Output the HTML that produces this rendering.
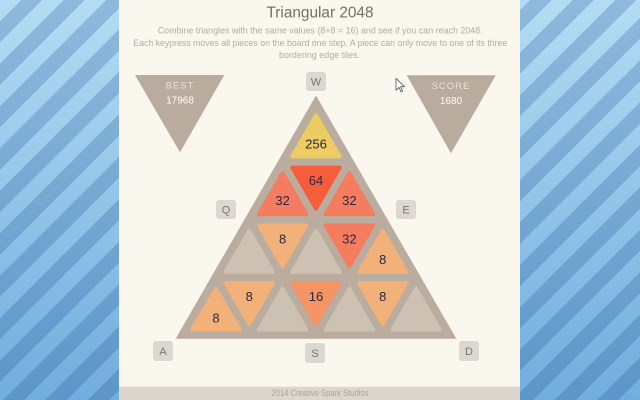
<!DOCTYPE html>
<html>
<head>
<meta charset="utf-8">
<style>
  html, body { margin:0; padding:0; width:640px; height:400px; overflow:hidden; }
  body {
    background:
      repeating-linear-gradient(135deg, rgba(25,75,145,0) 0px, rgba(25,75,145,0) 15px, rgba(25,75,145,0.24) 15px, rgba(25,75,145,0.24) 30px),
      linear-gradient(#b4dcf4, #72addc);
    font-family: "Liberation Sans", sans-serif;
  }
  svg { position:absolute; left:0; top:0; }
</style>
</head>
<body>
<svg width="640" height="400" viewBox="0 0 640 400" xmlns="http://www.w3.org/2000/svg" font-family="Liberation Sans, sans-serif">
  <!-- panel -->
  <rect x="119" y="0" width="401" height="400" fill="#faf7ef"/>
  <rect x="119" y="386.7" width="401" height="13.3" fill="#ddd6cf"/>
  <text x="320" y="396" text-anchor="middle" font-size="9" fill="#ada296" textLength="97" lengthAdjust="spacingAndGlyphs">2014 Creative Spark Studios</text>

  <!-- header -->
  <text x="320" y="17.5" text-anchor="middle" font-size="15.5" fill="#776e65" textLength="107" lengthAdjust="spacingAndGlyphs">Triangular 2048</text>
  <text x="320.2" y="33.5" text-anchor="middle" font-size="9.5" fill="#b3aba2" textLength="325" lengthAdjust="spacingAndGlyphs">Combine triangles with the same values (8+8 = 16) and see if you can reach 2048.</text>
  <text x="320.3" y="46" text-anchor="middle" font-size="9.5" fill="#b3aba2" textLength="374" lengthAdjust="spacingAndGlyphs">Each keypress moves all pieces on the board one step. A piece can only move to one of its three</text>
  <text x="319.5" y="58" text-anchor="middle" font-size="9.5" fill="#b3aba2" textLength="81" lengthAdjust="spacingAndGlyphs">bordering edge tiles.</text>

  <!-- score triangles -->
  <polygon points="135,75 224.3,75 180,152.3" fill="#b9ab9e"/>
  <text x="180" y="88.5" text-anchor="middle" font-size="9.5" fill="#ebe2d9" letter-spacing="1">BEST</text>
  <text x="180" y="103.5" text-anchor="middle" font-size="10" fill="#ffffff">17968</text>
  <polygon points="406.7,75.3 495.7,75.3 451,153.3" fill="#b9ab9e"/>
  <text x="451" y="88.8" text-anchor="middle" font-size="9.5" fill="#ebe2d9" letter-spacing="1">SCORE</text>
  <text x="451" y="103.8" text-anchor="middle" font-size="10" fill="#ffffff">1680</text>

  <!-- key buttons -->
  <g fill="#ddd7d1">
    <rect x="306" y="72" width="20" height="19" rx="3"/>
    <rect x="216" y="200" width="20" height="19" rx="3"/>
    <rect x="396" y="200" width="20" height="19" rx="3"/>
    <rect x="153" y="341" width="20" height="20" rx="3"/>
    <rect x="305" y="343" width="20" height="20" rx="3"/>
    <rect x="459" y="341" width="20" height="20" rx="3"/>
  </g>
  <g fill="#7b7570" font-size="11" text-anchor="middle">
    <text x="316" y="85.5">W</text>
    <text x="226" y="213.5">Q</text>
    <text x="406" y="213.5">E</text>
    <text x="163" y="355">A</text>
    <text x="315" y="357">S</text>
    <text x="469" y="355">D</text>
  </g>

  <!-- board -->
  <polygon points="316,96.5 176.5,338.2 455.5,338.2" fill="#baac9f" stroke="#baac9f" stroke-width="1" stroke-linejoin="round"/>

  <g stroke-width="4" stroke-linejoin="round">
    <!-- row 0 -->
    <polygon points="316,115.45 292.35,156.4 339.65,156.4" fill="#edcc61" stroke="#edcc61"/>
    <!-- row 1 -->
    <polygon points="282.65,173.2 259,214.15 306.3,214.15" fill="#f67c5f" stroke="#f67c5f"/>
    <polygon points="292.35,167.6 339.65,167.6 316,208.55" fill="#f65e3b" stroke="#f65e3b"/>
    <polygon points="349.35,173.2 325.7,214.15 373,214.15" fill="#f67c5f" stroke="#f67c5f"/>
    <!-- row 2 -->
    <polygon points="249.3,230.95 225.65,271.9 272.95,271.9" fill="#cdc1b4" stroke="#cdc1b4"/>
    <polygon points="259,225.35 306.3,225.35 282.65,266.3" fill="#f2b179" stroke="#f2b179"/>
    <polygon points="316,230.95 292.35,271.9 339.65,271.9" fill="#cdc1b4" stroke="#cdc1b4"/>
    <polygon points="325.7,225.35 373,225.35 349.35,266.3" fill="#f67c5f" stroke="#f67c5f"/>
    <polygon points="382.7,230.95 359.05,271.9 406.35,271.9" fill="#f2b179" stroke="#f2b179"/>
    <!-- row 3 -->
    <polygon points="215.95,288.7 192.3,329.65 239.6,329.65" fill="#f2b179" stroke="#f2b179"/>
    <polygon points="225.65,283.1 272.95,283.1 249.3,324.05" fill="#f2b179" stroke="#f2b179"/>
    <polygon points="282.65,288.7 259,329.65 306.3,329.65" fill="#cdc1b4" stroke="#cdc1b4"/>
    <polygon points="292.35,283.1 339.65,283.1 316,324.05" fill="#f59563" stroke="#f59563"/>
    <polygon points="349.35,288.7 325.7,329.65 373,329.65" fill="#cdc1b4" stroke="#cdc1b4"/>
    <polygon points="359.05,283.1 406.35,283.1 382.7,324.05" fill="#f2b179" stroke="#f2b179"/>
    <polygon points="416.05,288.7 392.4,329.65 439.7,329.65" fill="#cdc1b4" stroke="#cdc1b4"/>
  </g>

  <!-- tile numbers -->
  <g fill="#2b2745" font-size="13" text-anchor="middle">
    <text x="316" y="148.7">256</text>
    <text x="282.65" y="205">32</text>
    <text x="316" y="185.2">64</text>
    <text x="349.35" y="205">32</text>
    <text x="282.65" y="243.5">8</text>
    <text x="349.35" y="243.5">32</text>
    <text x="382.7" y="264.2">8</text>
    <text x="215.95" y="322.5">8</text>
    <text x="249.3" y="301">8</text>
    <text x="316" y="301">16</text>
    <text x="382.7" y="301">8</text>
  </g>

  <!-- cursor -->
  <polygon points="396,78.3 396,90.3 399,87.3 401,91.8 402.6,91.1 400.6,86.7 404.5,86.7" fill="#ffffff" stroke="#555" stroke-width="0.8" stroke-linejoin="round"/>
</svg>
</body>
</html>
